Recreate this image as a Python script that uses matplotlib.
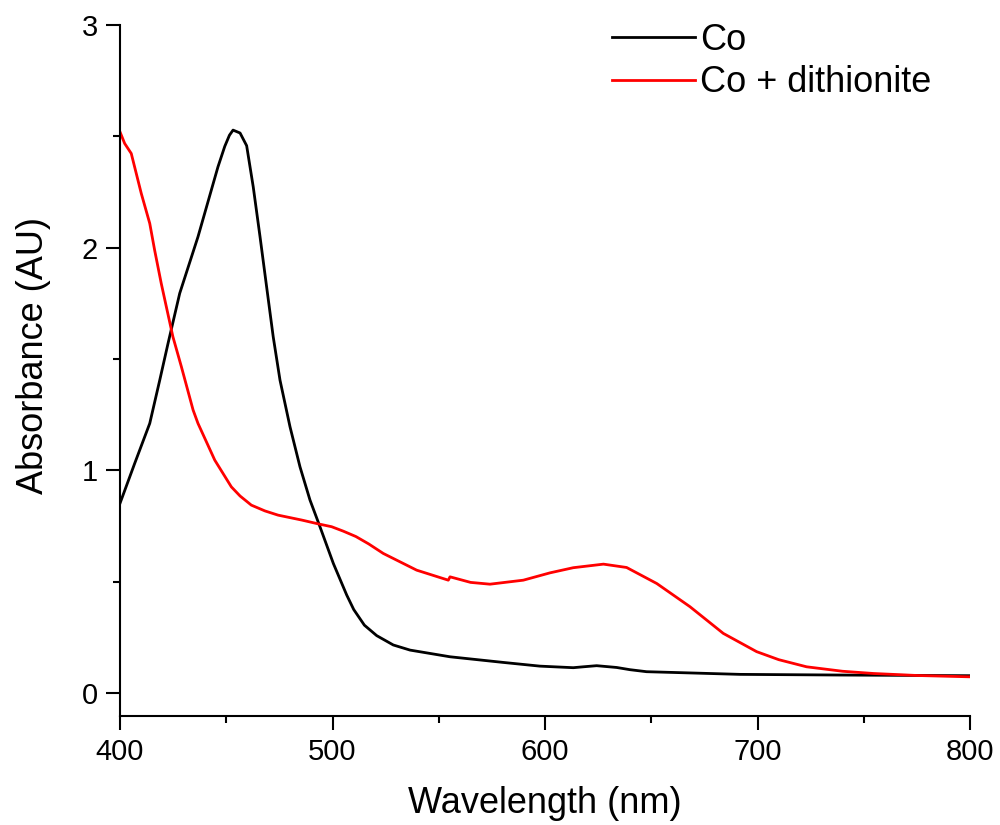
import matplotlib
matplotlib.use("Agg")
import matplotlib.pyplot as plt
from matplotlib.ticker import MultipleLocator

# Co (black)
co_wl = [400, 406.9, 414, 418.7, 422.6, 428.1, 436.7, 446.1, 449.3, 451.5, 453.2, 456.5,
         459.6, 462.7, 465.9, 469, 472.1, 475.3, 480, 484.7, 489.4, 494.1, 500.4,
         506.7, 510, 515, 520.8, 528.6, 536.5, 555.3, 580, 597.6, 613.3, 618, 624.3, 633.7,
         640, 647.8, 670, 691.8, 738.8, 800]
co_abs = [0.852, 1.031, 1.211, 1.405, 1.570, 1.795, 2.049, 2.363, 2.455, 2.505, 2.528, 2.515,
          2.458, 2.273, 2.049, 1.824, 1.60, 1.405, 1.196, 1.016, 0.867, 0.747, 0.582,
          0.44, 0.375, 0.305, 0.258, 0.216, 0.193, 0.163, 0.138, 0.121, 0.114, 0.118, 0.123, 0.115,
          0.105, 0.096, 0.090, 0.084, 0.081, 0.078]

# Co + dithionite (red)
red_wl = [400, 402.2, 405.3, 410, 414, 416.3, 419.4, 421.8, 424.9, 428.9, 434.4,
          436.7, 444.6, 452.4, 456.5, 461.8, 468.2, 474.4, 485.5, 493.2, 499.6, 505.1,
          511, 517, 523.9, 539.6, 554.5, 555.3, 565, 574.1, 589.8, 602.4, 613.3, 627.5,
          638.4, 652.6, 668.2, 683.9, 699.6, 710, 723.1, 740, 754.5, 775, 800]
red_abs = [2.52, 2.468, 2.423, 2.244, 2.109, 1.989, 1.840, 1.735, 1.60, 1.465, 1.271,
           1.211, 1.046, 0.926, 0.885, 0.844, 0.818, 0.799, 0.777, 0.760, 0.747, 0.727,
           0.703, 0.670, 0.627, 0.552, 0.507, 0.522, 0.497, 0.489, 0.507, 0.540, 0.563, 0.579,
           0.564, 0.492, 0.388, 0.268, 0.186, 0.150, 0.118, 0.098, 0.088, 0.079, 0.073]

labels = ["Co", "Co + dithionite"]
xlabel = "Wavelength (nm)"
ylabel = "Absorbance (AU)"

plt.rcParams['font.family'] = ['Liberation Sans', 'DejaVu Sans']

fig = plt.figure(figsize=(10, 8.25), dpi=100)
ax = fig.add_axes([0.12, 0.1321, 0.85, 0.8376])

ax.plot(co_wl, co_abs, color='black', lw=2, label=labels[0])
ax.plot(red_wl, red_abs, color='#ff0000', lw=2, label=labels[1])

ax.set_xlim(400, 800)
ax.set_ylim(-0.103, 3)
ax.xaxis.set_major_locator(MultipleLocator(100))
ax.xaxis.set_minor_locator(MultipleLocator(50))
ax.yaxis.set_major_locator(MultipleLocator(1))
ax.yaxis.set_minor_locator(MultipleLocator(0.5))

for s in ['top', 'right']:
    ax.spines[s].set_visible(False)
for s in ['left', 'bottom']:
    ax.spines[s].set_linewidth(1.5)

ax.tick_params(which='major', direction='out', length=10, width=1.5, labelsize=21, pad=6)
ax.tick_params(which='minor', direction='out', length=5, width=1.5)

ax.set_xlabel(xlabel, fontsize=26, labelpad=14)
ax.set_ylabel(ylabel, fontsize=26)
ax.yaxis.set_label_coords(-0.081, 0.521)

fig.legend(*ax.get_legend_handles_labels(), loc='upper left', frameon=False,
           fontsize=26, handlelength=2.3, handletextpad=0.15, labelspacing=0.2,
           borderpad=0, borderaxespad=0, bbox_to_anchor=(0.612, 0.972))

fig.savefig("out.png", dpi=100)
